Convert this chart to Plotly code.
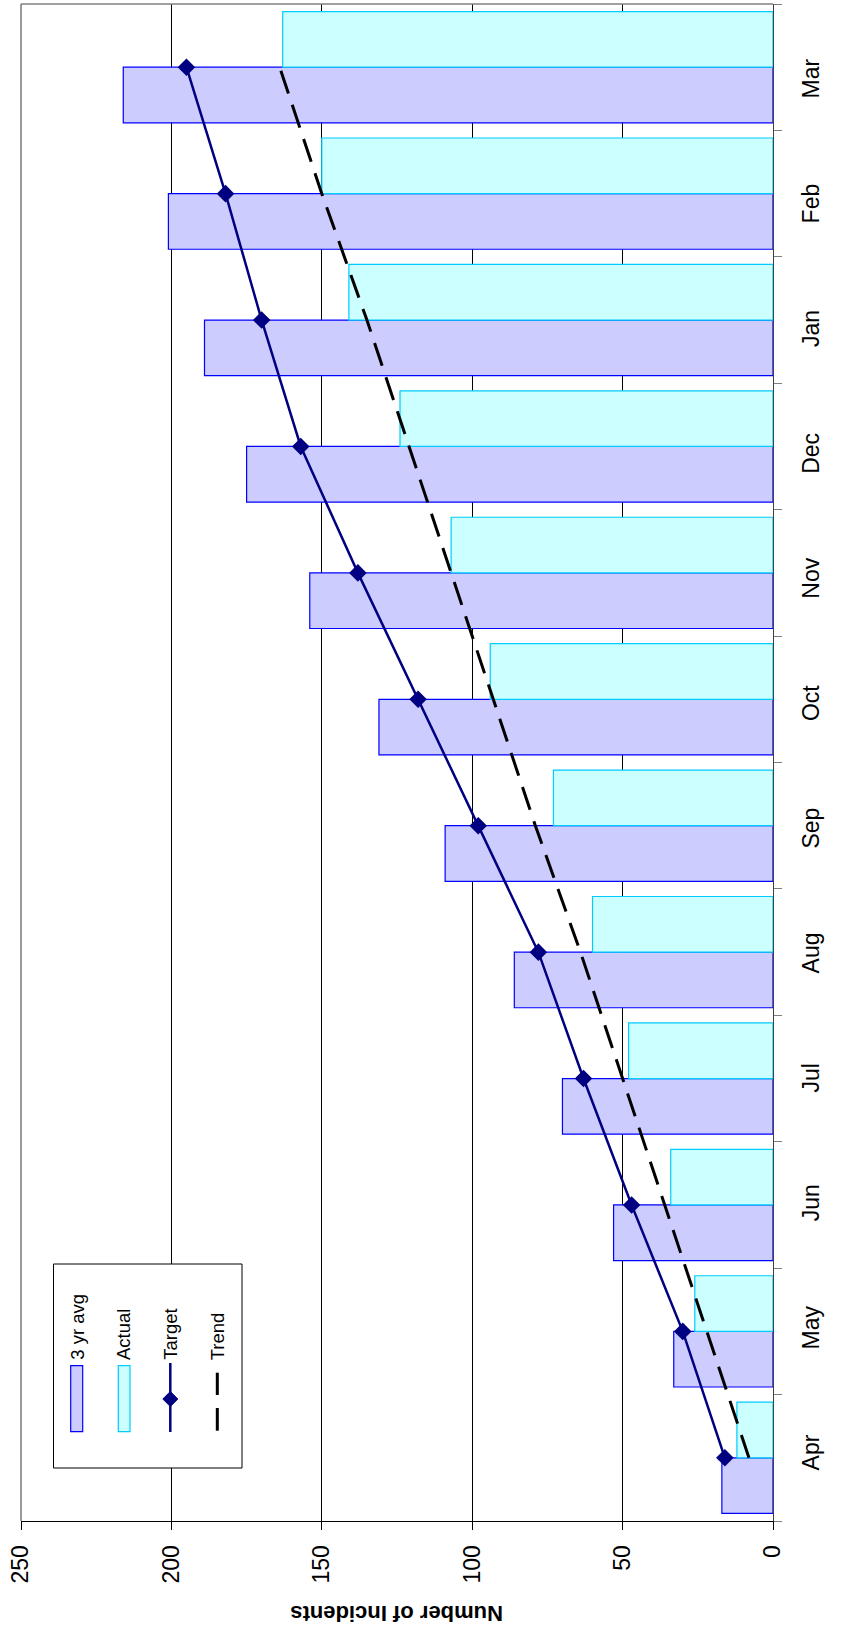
import plotly.graph_objects as go

months = ["Apr", "May", "Jun", "Jul", "Aug", "Sep", "Oct", "Nov", "Dec", "Jan", "Feb", "Mar"]
avg3 = [17, 33, 53, 70, 86, 109, 131, 154, 175, 189, 201, 216]
actual = [12, 26, 34, 48, 60, 73, 94, 107, 124, 141, 150, 163]
target = [16, 30, 47, 63, 78, 98, 118, 138, 157, 170, 182, 195]
trend = [8, 22, 36, 50, 64, 79, 93, 107, 121, 135, 150, 164]
value_ticks = [0, 50, 100, 150, 200, 250]

W, H = 847, 1641
PL, PR, PT, PB = 21, 773, 4, 1521
FONT = "Liberation Sans, Arial, sans-serif"


def fx(px):
    return (px - PL) / (PR - PL)


def fy(py):
    return (PB - py) / (PB - PT)


fig = go.Figure()
fig.add_trace(go.Bar(
    y=months, x=avg3, orientation="h", name="3 yr avg",
    marker=dict(color="#CCCCFF", line=dict(color="#0000FF", width=1.2)),
    showlegend=False,
))
fig.add_trace(go.Bar(
    y=months, x=actual, orientation="h", name="Actual",
    marker=dict(color="#CCFFFF", line=dict(color="#00CCFF", width=1.2)),
    showlegend=False,
))
fig.add_trace(go.Scatter(
    y=months, x=target, mode="lines+markers", name="Target",
    line=dict(color="#000080", width=2.5),
    marker=dict(symbol="diamond", size=13.5, color="#000080"),
    showlegend=False,
))
fig.add_trace(go.Scatter(
    y=months, x=trend, mode="lines", name="Trend",
    line=dict(color="#000000", width=3, dash="24px,12px"),
    showlegend=False,
))
# empty trace that registers the label axis (y2)
fig.add_trace(go.Scatter(
    x=[None], y=[None], yaxis="y2", mode="markers", showlegend=False, hoverinfo="skip",
))

shapes = []
# gray plot-area border (left and top)
shapes.append(dict(type="line", xref="paper", yref="paper", x0=0, x1=0, y0=0, y1=1,
                   line=dict(color="#808080", width=1.6), layer="above"))
shapes.append(dict(type="line", xref="paper", yref="paper", x0=0, x1=1, y0=1, y1=1,
                   line=dict(color="#808080", width=1.6), layer="above"))

# legend box
shapes.append(dict(type="rect", xref="paper", yref="paper",
                   x0=fx(53.5), x1=fx(242), y0=fy(1468), y1=fy(1264),
                   fillcolor="white", line=dict(color="#000000", width=1), layer="above"))
# swatches
shapes.append(dict(type="rect", xref="paper", yref="paper",
                   x0=fx(70.7), x1=fx(82.7), y0=fy(1431.7), y1=fy(1365.7),
                   fillcolor="#CCCCFF", line=dict(color="#0000FF", width=1.2), layer="above"))
shapes.append(dict(type="rect", xref="paper", yref="paper",
                   x0=fx(118.3), x1=fx(130), y0=fy(1431.7), y1=fy(1365.7),
                   fillcolor="#CCFFFF", line=dict(color="#00CCFF", width=1.2), layer="above"))
shapes.append(dict(type="line", xref="paper", yref="paper",
                   x0=fx(170.3), x1=fx(170.3), y0=fy(1432), y1=fy(1363),
                   line=dict(color="#000080", width=2.5), layer="above"))
dcx, dcy, dh = 170.3, 1399, 7.5
path = "M {} {} L {} {} L {} {} L {} {} Z".format(
    fx(dcx), fy(dcy - dh), fx(dcx + dh), fy(dcy), fx(dcx), fy(dcy + dh), fx(dcx - dh), fy(dcy))
shapes.append(dict(type="path", xref="paper", yref="paper", path=path,
                   fillcolor="#000080", line=dict(color="#000080", width=1), layer="above"))
for a, b in [(1372.7, 1395), (1408, 1430.7)]:
    shapes.append(dict(type="line", xref="paper", yref="paper",
                       x0=fx(217.3), x1=fx(217.3), y0=fy(b), y1=fy(a),
                       line=dict(color="#000000", width=3), layer="above"))

annotations = []
for label, cx in [("3 yr avg", 76.7), ("Actual", 123.5), ("Target", 170.3), ("Trend", 217.3)]:
    annotations.append(dict(text=label, xref="paper", yref="paper", x=fx(cx), y=fy(1361),
                            xanchor="center", yanchor="bottom", textangle=-90, showarrow=False,
                            font=dict(family=FONT, size=18.5, color="#000000"), borderpad=0))
annotations.append(dict(text="<b>Number of Incidents</b>", xref="paper", yref="paper",
                        x=fx(397), y=fy(1614), xanchor="center", yanchor="middle",
                        textangle=180, showarrow=False,
                        font=dict(family=FONT, size=22, color="#000000")))

# month labels are spaced slightly tighter than the categories (Excel rendering)
lab_step = 124.9
lab_first = 1456.0
y2_lo = -(PB - lab_first) / lab_step
y2_hi = y2_lo + (PB - PT) / lab_step

fig.update_layout(
    width=W, height=H,
    margin=dict(l=PL, r=W - PR, t=PT, b=H - PB, pad=0),
    paper_bgcolor="white", plot_bgcolor="white",
    barmode="group", bargap=0.12, bargroupgap=0,
    font=dict(family=FONT, size=23, color="#000000"),
    shapes=shapes, annotations=annotations,
    showlegend=False,
    xaxis=dict(
        range=[250, 0], tickvals=value_ticks, ticktext=[str(v) for v in value_ticks],
        tickangle=-90, showgrid=True, gridcolor="#000000", gridwidth=1,
        showline=True, linecolor="#000000", linewidth=1,
        ticks="outside", ticklen=8, tickcolor="#000000", tickwidth=1,
        tickfont=dict(family=FONT, size=23, color="#000000"),
        zeroline=False, side="bottom", ticklabelstandoff=6,
    ),
    yaxis=dict(
        type="category", categoryorder="array", categoryarray=months,
        range=[-0.5, 11.5], side="right",
        showgrid=False, zeroline=False, showticklabels=False,
        showline=True, linecolor="#404040", linewidth=1,
        ticks="outside", tickson="boundaries", ticklen=8, tickcolor="#808080", tickwidth=1,
    ),
    yaxis2=dict(
        overlaying="y", anchor="x", side="right", type="linear",
        range=[y2_lo, y2_hi], tickvals=list(range(len(months))), ticktext=months,
        tickangle=-90, showgrid=False, zeroline=False, showline=False, ticks="",
        tickfont=dict(family=FONT, size=23, color="#000000"),
        ticklabelstandoff=22,
    ),
)

fig.write_html(
    "out.html",
    config={"displayModeBar": False},
    post_script="document.body.style.margin='0px';document.body.style.padding='0px';",
)
